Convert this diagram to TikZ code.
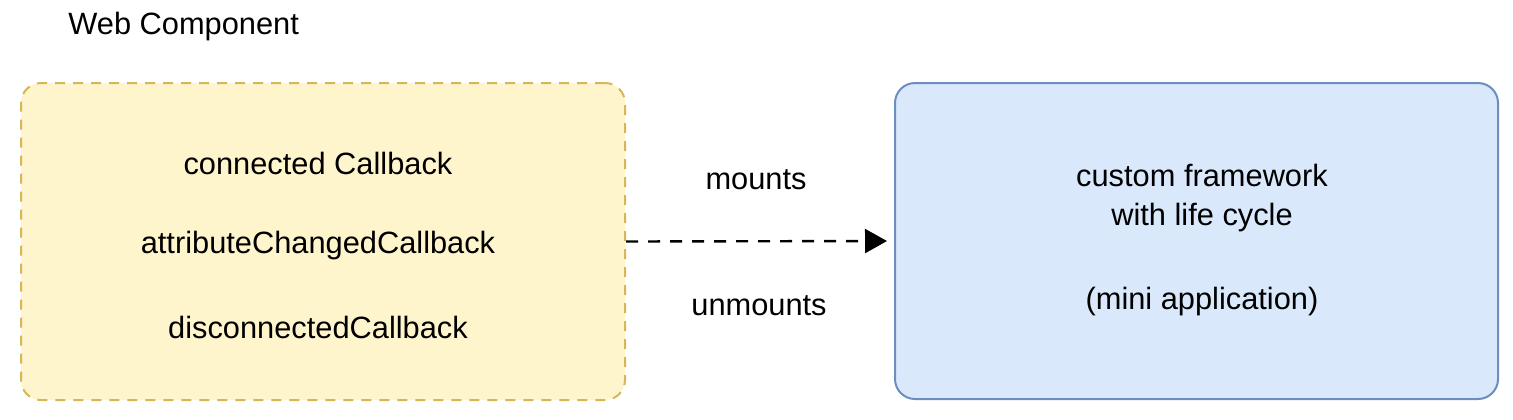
\documentclass[tikz,border=0pt]{standalone}
\usepackage{fontspec}
\setmainfont{Liberation Sans}
\usetikzlibrary{arrows.meta}
\definecolor{yfill}{HTML}{FFF5CC}
\definecolor{ydraw}{HTML}{D6B656}
\definecolor{bfill}{HTML}{DAE8FC}
\definecolor{bdraw}{HTML}{6C8EBF}
\tikzset{
  lbl/.style={font=\fontsize{15.4}{19.5}\selectfont, inner sep=0pt, anchor=center},
  ybox/.style={draw=ydraw, fill=yfill, line width=1pt, dash pattern=on 5pt off 4pt, rounded corners=10pt},
  bbox/.style={draw=bdraw, fill=bfill, line width=1pt, rounded corners=10pt},
}
\begin{document}
\begin{tikzpicture}[x=0.5pt,y=-0.5pt]
\useasboundingbox (0,0) rectangle (1513,419);
\node[ybox, minimum width=302pt, minimum height=158.5pt, inner sep=0pt] (wc) at (323,241.5) {};
\node[bbox, minimum width=301.5pt, minimum height=158pt, inner sep=0pt] (cf) at (1196.5,241) {};
\node[lbl, anchor=west] (title) at (68,27) {Web Component};
\node[lbl] (cc) at (318,163) {connected Callback};
\node[lbl] (ac) at (318,246) {attributeChangedCallback};
\node[lbl] (dc) at (318,327) {disconnectedCallback};
\node[lbl] (m) at (756,180) {mounts};
\node[lbl] (u) at (759,306) {unmounts};
\node[lbl, align=center] (t1) at (1202,198) {custom framework\\ with life cycle};
\node[lbl] (t2) at (1202,302) {(mini application)};
\draw[line width=1.2pt, dash pattern=on 6pt off 5pt, -{Triangle[length=11pt,width=12pt]}] (wc.east) -- ([xshift=-3.5pt]cf.west);
\end{tikzpicture}
\end{document}
